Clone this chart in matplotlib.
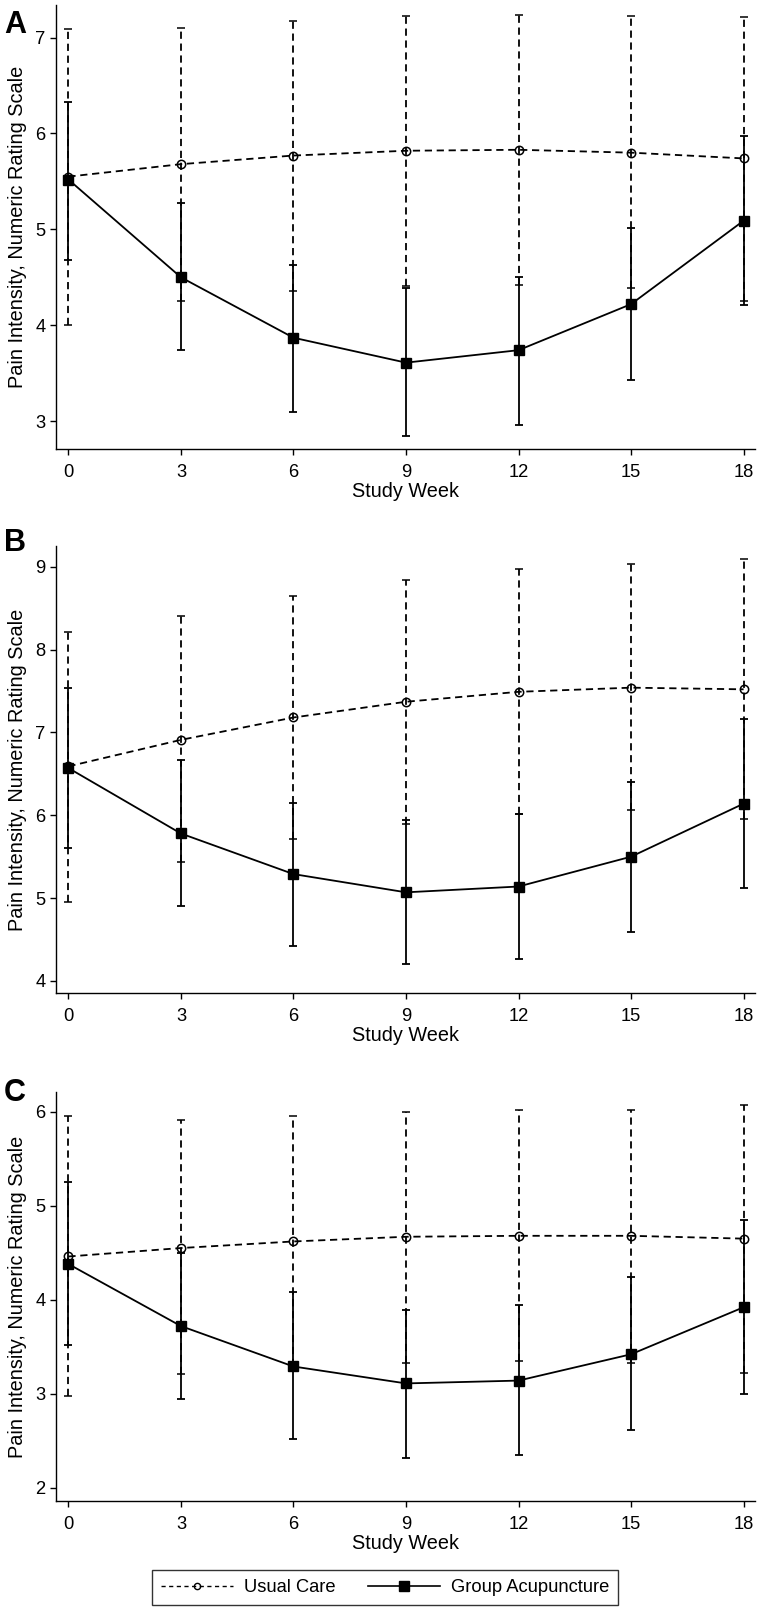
"""
Pain intensity by study week, usual care vs group acupuncture (panels A-C)
"""
import matplotlib
matplotlib.use('Agg')
import matplotlib.pyplot as plt
from matplotlib.lines import Line2D

plt.rcParams['font.family'] = ['Liberation Sans', 'DejaVu Sans']

weeks = [0, 3, 6, 9, 12, 15, 18]

#panel A
uc_mean_a = [5.55, 5.68, 5.77, 5.82, 5.83, 5.80, 5.74]
uc_lo_a   = [4.00, 4.25, 4.36, 4.41, 4.42, 4.39, 4.25]
uc_hi_a   = [7.09, 7.10, 7.17, 7.23, 7.24, 7.23, 7.22]
ga_mean_a = [5.52, 4.50, 3.87, 3.61, 3.74, 4.22, 5.09]
ga_lo_a   = [4.68, 3.74, 3.10, 2.84, 2.96, 3.43, 4.21]
ga_hi_a   = [6.33, 5.27, 4.63, 4.39, 4.50, 5.01, 5.97]

#panel B
uc_mean_b = [6.59, 6.91, 7.18, 7.37, 7.49, 7.54, 7.52]
uc_lo_b   = [4.95, 5.43, 5.71, 5.90, 6.02, 6.06, 5.95]
uc_hi_b   = [8.21, 8.40, 8.65, 8.84, 8.97, 9.03, 9.09]
ga_mean_b = [6.57, 5.78, 5.29, 5.07, 5.14, 5.50, 6.14]
ga_lo_b   = [5.61, 4.91, 4.42, 4.20, 4.27, 4.59, 5.12]
ga_hi_b   = [7.53, 6.67, 6.15, 5.94, 6.01, 6.40, 7.16]

#panel C
uc_mean_c = [4.46, 4.55, 4.62, 4.67, 4.68, 4.68, 4.65]
uc_lo_c   = [2.98, 3.21, 3.29, 3.33, 3.35, 3.33, 3.22]
uc_hi_c   = [5.95, 5.91, 5.95, 6.00, 6.02, 6.02, 6.07]
ga_mean_c = [4.38, 3.72, 3.29, 3.11, 3.14, 3.42, 3.92]
ga_lo_c   = [3.52, 2.94, 2.52, 2.32, 2.35, 2.61, 3.00]
ga_hi_c   = [5.25, 4.50, 4.08, 3.89, 3.94, 4.24, 4.85]

panel_labels = ['A', 'B', 'C']
yticks = [[3, 4, 5, 6, 7], [4, 5, 6, 7, 8, 9], [2, 3, 4, 5, 6]]
ylims = [(2.71, 7.34), (3.855, 9.25), (1.86, 6.21)]
series = [(uc_mean_a, uc_lo_a, uc_hi_a, ga_mean_a, ga_lo_a, ga_hi_a),
          (uc_mean_b, uc_lo_b, uc_hi_b, ga_mean_b, ga_lo_b, ga_hi_b),
          (uc_mean_c, uc_lo_c, uc_hi_c, ga_mean_c, ga_lo_c, ga_hi_c)]

#axes boxes in figure fraction [left, bottom, width, height]
boxes = [[0.0737, 0.7215, 0.920, 0.2754],
         [0.0737, 0.3840, 0.920, 0.2773],
         [0.0737, 0.0689, 0.920, 0.2537]]
label_y = [0.9935, 0.6725, 0.331]

lw = 1.3
dash = (0, (4.0, 2.6))

fig = plt.figure(figsize=(7.6, 16.12), dpi=100)

for i, (uc_m, uc_l, uc_h, ga_m, ga_l, ga_h) in enumerate(series):
    ax = fig.add_axes(boxes[i])

    uc_err = [[m - l for m, l in zip(uc_m, uc_l)], [h - m for m, h in zip(uc_m, uc_h)]]
    ga_err = [[m - l for m, l in zip(ga_m, ga_l)], [h - m for m, h in zip(ga_m, ga_h)]]

    #usual care: dashed line, open circles, dashed CI bars
    eb = ax.errorbar(weeks, uc_m, yerr=uc_err, color='black', lw=lw, ls=dash,
                     marker='o', ms=6, mfc='none', mec='black', mew=1.1,
                     elinewidth=lw, capsize=3, capthick=lw, zorder=2)
    eb[2][0].set_linestyle(dash)

    #group acupuncture: solid line, filled squares
    ax.errorbar(weeks, ga_m, yerr=ga_err, color='black', lw=lw, ls='-',
                marker='s', ms=7, mfc='black', mec='black',
                elinewidth=lw, capsize=3, capthick=lw, zorder=3)

    ax.set_xlim(-0.33, 18.31)
    ax.set_ylim(*ylims[i])
    ax.set_xticks(weeks)
    ax.set_yticks(yticks[i])
    ax.spines['top'].set_visible(False)
    ax.spines['right'].set_visible(False)
    for s in ['left', 'bottom']:
        ax.spines[s].set_linewidth(1.0)
    ax.tick_params(direction='out', length=4.6, width=1.0, labelsize=13.2)
    ax.tick_params(axis='x', pad=6)
    ax.tick_params(axis='y', pad=3)
    ax.set_xlabel('Study Week', fontsize=14.3, labelpad=1)
    ax.set_ylabel('Pain Intensity, Numeric Rating Scale', fontsize=14.3, labelpad=6)

    fig.text(0.005, label_y[i], panel_labels[i], fontsize=22, fontweight='bold',
             ha='left', va='top')

#legend
handles = [Line2D([], [], color='black', lw=1.0, ls=(0, (3, 2.5)), marker='o', ms=4.5,
                  mfc='none', mec='black'),
           Line2D([], [], color='black', lw=1.2, ls='-', marker='s', ms=6.5, mfc='black')]
leg = fig.legend(handles, ['Usual Care', 'Group Acupuncture'], loc='center',
                 bbox_to_anchor=(0.5066, 0.0152), ncol=2, fontsize=13.2,
                 frameon=True, fancybox=False, handlelength=3.9, columnspacing=1.8,
                 handletextpad=0.6, borderpad=0.5, borderaxespad=0)
leg.get_frame().set_edgecolor('black')
leg.get_frame().set_linewidth(1.0)

fig.savefig('out.png', dpi=100)
